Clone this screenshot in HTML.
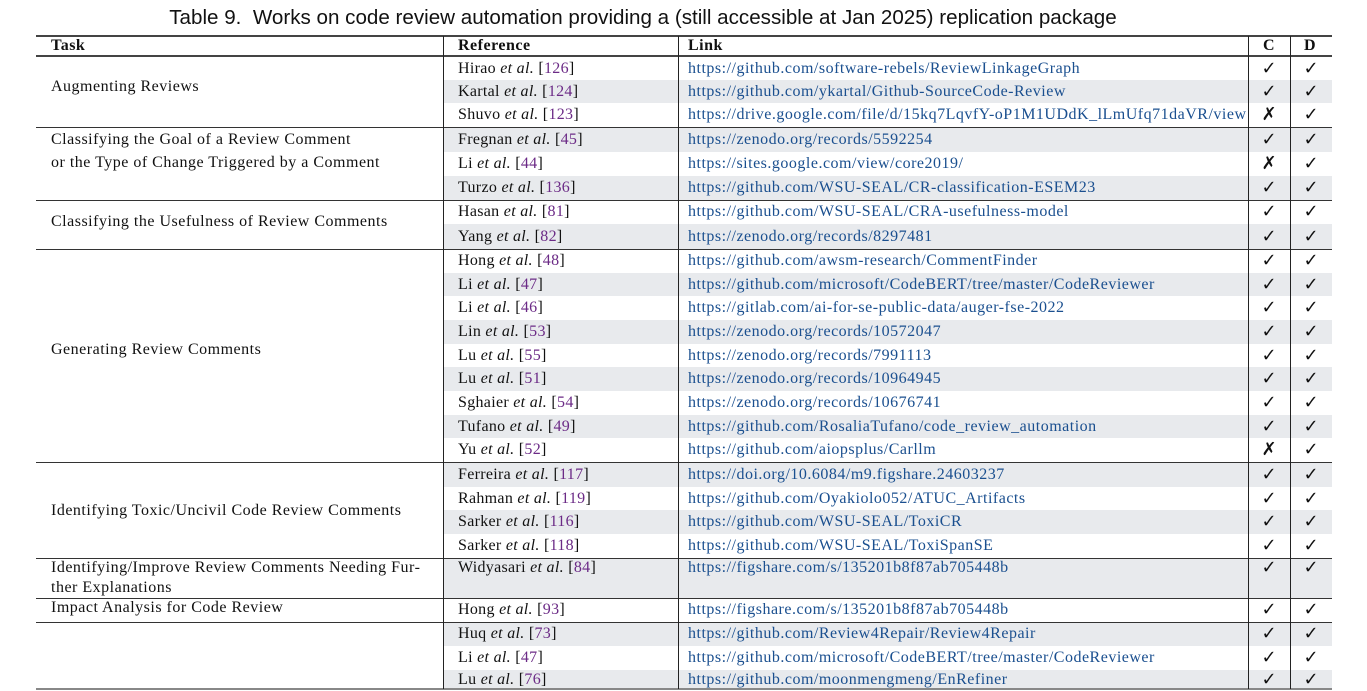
<!DOCTYPE html>
<html><head><meta charset="utf-8"><style>
body{margin:0;width:1367px;height:691px;background:#fff;position:relative;overflow:hidden;font-family:"Liberation Serif",serif;font-size:16px;letter-spacing:0.5px;color:#111}
.a{position:absolute;white-space:nowrap}
.title{position:absolute;left:0;width:1286px;top:6px;text-align:center;font-family:"Liberation Sans",sans-serif;font-size:20.6px;letter-spacing:0;color:#111}
.hl{position:absolute;left:36px;width:1296px;background:#444}
.vl{position:absolute;top:36px;height:653px;width:1px;background:#222}
.sh{position:absolute;left:444px;width:888px;background:#e8eaed}
.lk{color:#1a4f8f;letter-spacing:0.5px}
.cite{color:#6b2a86}
.ref{letter-spacing:0.3px}
.h{font-weight:bold}
.ck{position:absolute;width:20px;text-align:center;font-family:"DejaVu Sans",sans-serif;font-size:18px;letter-spacing:0;font-weight:bold}
</style></head><body>
<div class="title">Table 9.&nbsp; Works on code review automation providing a (still accessible at Jan 2025) replication package</div>
<div id="t"></div>
<script>
const refs=["Hirao","Kartal","Shuvo","Fregnan","Li","Turzo","Hasan","Yang","Hong","Li","Li","Lin","Lu","Lu","Sghaier","Tufano","Yu","Ferreira","Rahman","Sarker","Sarker","Widyasari","Hong","Huq","Li","Lu"];
const cites=["126","124","123","45","44","136","81","82","48","47","46","53","55","51","54","49","52","117","119","116","118","84","93","73","47","76"];
const links=["https://github.com/software-rebels/ReviewLinkageGraph","https://github.com/ykartal/Github-SourceCode-Review","https://drive.google.com/file/d/15kq7LqvfY-oP1M1UDdK_lLmUfq71daVR/view","https://zenodo.org/records/5592254","https://sites.google.com/view/core2019/","https://github.com/WSU-SEAL/CR-classification-ESEM23","https://github.com/WSU-SEAL/CRA-usefulness-model","https://zenodo.org/records/8297481","https://github.com/awsm-research/CommentFinder","https://github.com/microsoft/CodeBERT/tree/master/CodeReviewer","https://gitlab.com/ai-for-se-public-data/auger-fse-2022","https://zenodo.org/records/10572047","https://zenodo.org/records/7991113","https://zenodo.org/records/10964945","https://zenodo.org/records/10676741","https://github.com/RosaliaTufano/code_review_automation","https://github.com/aiopsplus/Carllm","https://doi.org/10.6084/m9.figshare.24603237","https://github.com/Oyakiolo052/ATUC_Artifacts","https://github.com/WSU-SEAL/ToxiCR","https://github.com/WSU-SEAL/ToxiSpanSE","https://figshare.com/s/135201b8f87ab705448b","https://figshare.com/s/135201b8f87ab705448b","https://github.com/Review4Repair/Review4Repair","https://github.com/microsoft/CodeBERT/tree/master/CodeReviewer","https://github.com/moonmengmeng/EnRefiner"];
const colC=[1,1,0,1,0,1,1,1,1,1,1,1,1,1,1,1,0,1,1,1,1,1,1,1,1,1];
const tops=[57,80,103,127,152,176,200,224,249,273,296,320,344,367,391,415,438,462,487,510,534,558,598,622,646,670];
const bots=[80,103,127,152,176,200,224,249,273,296,320,344,367,391,415,438,462,487,510,534,558,598,622,646,670,689];
const shaded=[0,1,0,1,0,1,0,1,0,1,0,1,0,1,0,1,0,1,0,1,0,1,0,1,0,1];
const tasks=[["Augmenting Reviews",87],["Classifying the Goal of a Review Comment",140],["or the Type of Change Triggered by a Comment",163],["Classifying the Usefulness of Review Comments",222],["Generating Review Comments",350],["Identifying Toxic/Uncivil Code Review Comments",511],["Identifying/Improve Review Comments Needing Fur-",568],["ther Explanations",588],["Impact Analysis for Code Review",608]];
const seps=[127,200,249,462,558,598,622];
const T=document.getElementById('t');
function mk(cls,style,html){const e=document.createElement('div');e.className=cls;e.style.cssText=style;if(html!==undefined)e.innerHTML=html;T.appendChild(e);return e;}
for(let i=0;i<refs.length;i++){
 if(shaded[i]){const s=mk('sh','top:'+tops[i]+'px;height:'+(bots[i]-tops[i])+'px');
 
 }
 const yc=(i===21)?568:(tops[i]+bots[i])/2;
 const r=mk('a ref','left:458px;top:'+(yc-9)+'px',refs[i]+' <i>et al.</i> [<span class="cite">'+cites[i]+'</span>]');
 
 
 const l=mk('a lk','left:688px;top:'+(yc-9)+'px',links[i]);
 
 
 const c=mk('ck','left:1259px;top:'+(yc-11)+'px',colC[i]?'✓':'✗');
 
 
 const d=mk('ck','left:1301px;top:'+(yc-11)+'px','✓');
 
 
}
for(const [txt,y] of tasks){const e=mk('a','left:51px;top:'+(y-9)+'px',txt);
 
 }
const hd=[["Task",51],["Reference",458],["Link",688],["C",1263],["D",1304]];
for(const [txt,x] of hd){const e=mk('a h','left:'+x+'px;top:37px',txt);
 
 }
let e=mk('hl','top:35px;height:2px');


e=mk('hl','top:55px;height:2px');


e=mk('hl','top:688px;height:2px;background:#888');


for(const y of seps){const s=mk('hl','top:'+y+'px;height:1px;background:#333');
 
 }
for(const x of [443,678,1248,1290]){const v=mk('vl','left:'+x+'px');
 
 }
</script>
</body></html>
